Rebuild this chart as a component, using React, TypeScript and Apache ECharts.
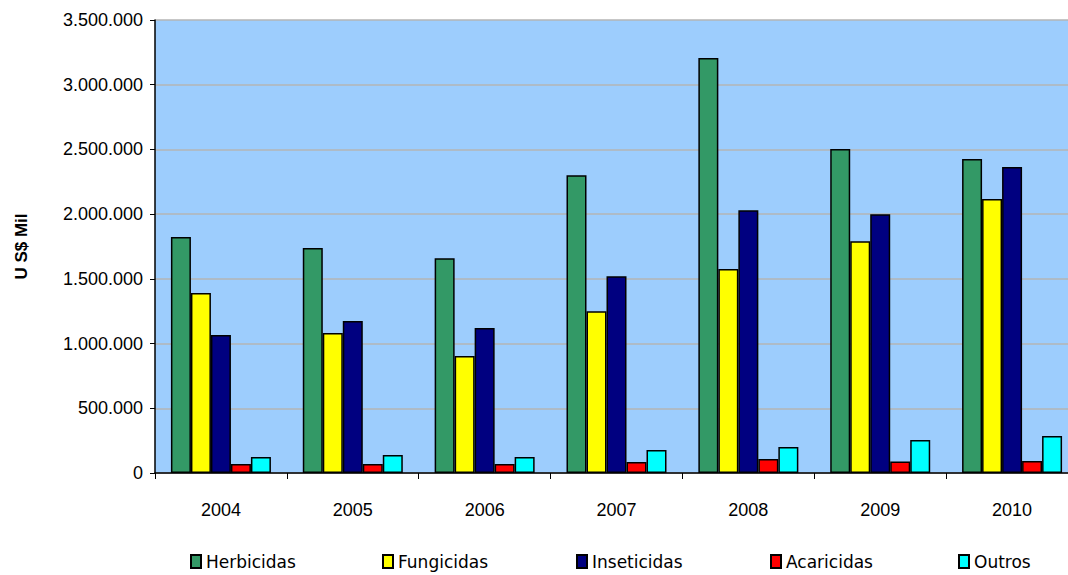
import React, { useEffect, useRef } from "react";
import * as echarts from "echarts";

const years = ["2004", "2005", "2006", "2007", "2008", "2009", "2010"];
const herbicidas = [1824000, 1739000, 1660000, 2300000, 3207000, 2504000, 2427000];
const fungicidas = [1390000, 1082000, 904000, 1250000, 1576000, 1790000, 2117000];
const inseticidas = [1066000, 1175000, 1120000, 1520000, 2030000, 2000000, 2365000];
const acaricidas = [70000, 70000, 70000, 85000, 108000, 88000, 93000];
const outros = [124000, 139000, 124000, 178000, 200000, 255000, 286000];

const seriesNames = ["Herbicidas", "Fungicidas", "Inseticidas", "Acaricidas", "Outros"];
const seriesData = [herbicidas, fungicidas, inseticidas, acaricidas, outros];
const seriesColors = ["#339966", "#FFFF00", "#000080", "#FF0000", "#00FFFF"];
const legendLefts = [185, 377, 571, 765, 953];

function fmt(v: number): string {
  return String(v).replace(/\B(?=(\d{3})+(?!\d))/g, ".");
}

export default function App() {
  const ref = useRef<HTMLDivElement>(null);
  useEffect(() => {
    if (!ref.current) return;
    const chart = echarts.init(ref.current, null, { renderer: "svg" });
    chart.setOption({
      animation: false,
      backgroundColor: "#ffffff",
      grid: {
        left: 155,
        top: 20,
        bottom: 102,
        width: 923,
        outerBoundsMode: "none",
        containLabel: false,
        show: true,
        backgroundColor: "#9DCDFD",
        borderWidth: 0,
      },
      legend: seriesNames.map((n, i) => ({
        data: [n],
        left: legendLefts[i],
        top: 548,
        icon: "rect",
        itemWidth: 10,
        itemHeight: 13,
        itemGap: 5,
        textStyle: { fontFamily: "DejaVu Sans", fontSize: 17, color: "#000" },
      })),
      xAxis: {
        type: "category",
        data: years,
        axisLine: { lineStyle: { color: "#000", width: 1.5 } },
        axisTick: { show: true, length: 6, lineStyle: { color: "#000" } },
        axisLabel: {
          margin: 28,
          fontFamily: "Liberation Sans",
          fontSize: 18,
          color: "#000",
        },
      },
      yAxis: {
        type: "value",
        min: 0,
        max: 3500000,
        interval: 500000,
        name: "U S$ Mil",
        nameLocation: "middle",
        nameGap: 125,
        nameRotate: 90,
        nameTextStyle: {
          fontFamily: "Liberation Sans",
          fontSize: 17,
          fontWeight: "bold",
          color: "#000",
        },
        axisLine: { show: true, lineStyle: { color: "#000", width: 1.5 } },
        axisTick: { show: true, length: 5, lineStyle: { color: "#000" } },
        splitLine: { lineStyle: { color: "#B4B4B4", width: 1.5 } },
        axisLabel: {
          margin: 12,
          fontFamily: "Liberation Sans",
          fontSize: 18,
          color: "#000",
          formatter: (v: number) => fmt(v),
        },
      },
      series: seriesNames.map((n, i) => ({
        name: n,
        type: "bar",
        data: seriesData[i],
        barWidth: 20,
        barGap: "0%",
        itemStyle: {
          color: seriesColors[i],
          borderColor: "#000",
          borderWidth: 1.5,
        },
      })),
    });
    return () => chart.dispose();
  }, []);
  return (
    <div
      ref={ref}
      style={{ position: "absolute", left: 0, top: 0, width: 1068, height: 575 }}
    />
  );
}
